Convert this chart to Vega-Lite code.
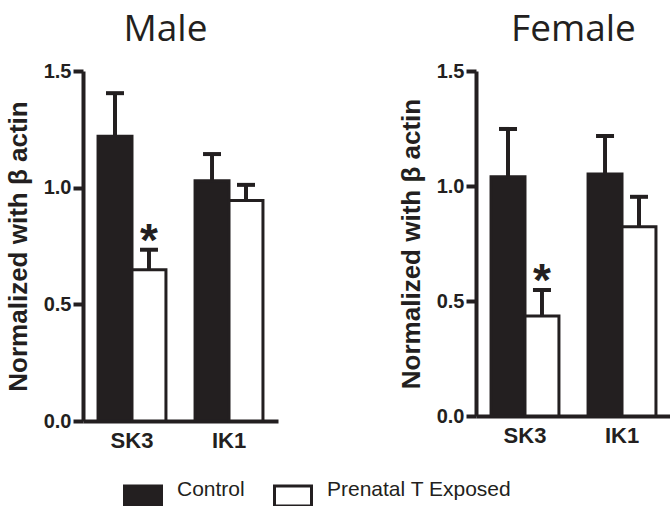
{
  "$schema": "https://vega.github.io/schema/vega-lite/v6.json",
  "padding": {"left": 5, "top": 11, "right": 0, "bottom": 0},
  "datasets": {
    "d": [
      {"sex": "Male", "gene": "SK3", "group": "Control", "mean": 1.22, "upper": 1.405, "sig": ""},
      {"sex": "Male", "gene": "SK3", "group": "Prenatal T Exposed", "mean": 0.648, "upper": 0.734, "sig": "*"},
      {"sex": "Male", "gene": "IK1", "group": "Control", "mean": 1.03, "upper": 1.144, "sig": ""},
      {"sex": "Male", "gene": "IK1", "group": "Prenatal T Exposed", "mean": 0.945, "upper": 1.012, "sig": ""},
      {"sex": "Female", "gene": "SK3", "group": "Control", "mean": 1.04, "upper": 1.248, "sig": ""},
      {"sex": "Female", "gene": "SK3", "group": "Prenatal T Exposed", "mean": 0.435, "upper": 0.548, "sig": "*"},
      {"sex": "Female", "gene": "IK1", "group": "Control", "mean": 1.052, "upper": 1.217, "sig": ""},
      {"sex": "Female", "gene": "IK1", "group": "Prenatal T Exposed", "mean": 0.823, "upper": 0.953, "sig": ""}
    ]
  },
  "spacing": 120,
  "hconcat": [
    {
      "title": {"text": "Male", "dx": -15},
      "data": {"name": "d"},
      "transform": [{"filter": "datum.sex == 'Male'"}],
      "width": 195,
      "height": 350,
      "encoding": {
        "x": {"field": "gene", "type": "nominal", "sort": ["SK3", "IK1"], "title": null,
              "scale": {"paddingInner": 0.3, "paddingOuter": 0.155},
              "axis": {"labelAngle": 0, "ticks": false, "labelPadding": 9, "labelFontSize": 22}},
        "xOffset": {"field": "group", "type": "nominal", "sort": ["Control", "Prenatal T Exposed"], "scale": {"paddingInner": 0, "paddingOuter": 0}}
      },
      "layer": [
        {
          "mark": {"type": "bar", "stroke": "#231f20", "strokeWidth": 3},
          "encoding": {
            "y": {"field": "mean", "type": "quantitative", "scale": {"domain": [0, 1.5], "nice": false},
                  "axis": {"values": [0, 0.5, 1, 1.5], "format": ".1f", "title": "Normalized with β actin"}},
            "fill": {"field": "group", "type": "nominal", "scale": {"domain": ["Control", "Prenatal T Exposed"], "range": ["#231f20", "#ffffff"]},
                     "legend": {"orient": "none", "legendX": 40, "legendY": 405, "direction": "horizontal", "title": null}}
          }
        },
        {
          "mark": {"type": "rule", "stroke": "#231f20", "strokeWidth": 4},
          "encoding": {"y": {"field": "mean", "type": "quantitative"}, "y2": {"field": "upper"}}
        },
        {
          "mark": {"type": "tick", "color": "#231f20", "size": 18, "thickness": 4, "opacity": 1},
          "encoding": {"y": {"field": "upper", "type": "quantitative"}}
        },
        {
          "transform": [{"filter": "datum.sig == '*'"}],
          "mark": {"type": "text", "font": "Liberation Sans", "fontWeight": "bold", "fontSize": 46, "baseline": "alphabetic", "dy": 6, "color": "#231f20"},
          "encoding": {"y": {"field": "upper", "type": "quantitative"}, "text": {"field": "sig"}}
        }
      ]
    },
    {
      "title": "Female",
      "data": {"name": "d"},
      "transform": [{"filter": "datum.sex == 'Female'"}],
      "width": 195,
      "height": 345,
      "encoding": {
        "x": {"field": "gene", "type": "nominal", "sort": ["SK3", "IK1"], "title": null,
              "scale": {"paddingInner": 0.3, "paddingOuter": 0.155},
              "axis": {"labelAngle": 0, "ticks": false, "labelPadding": 9, "labelFontSize": 22}},
        "xOffset": {"field": "group", "type": "nominal", "sort": ["Control", "Prenatal T Exposed"], "scale": {"paddingInner": 0, "paddingOuter": 0}}
      },
      "layer": [
        {
          "mark": {"type": "bar", "stroke": "#231f20", "strokeWidth": 3},
          "encoding": {
            "y": {"field": "mean", "type": "quantitative", "scale": {"domain": [0, 1.5], "nice": false},
                  "axis": {"values": [0, 0.5, 1, 1.5], "format": ".1f", "title": "Normalized with β actin"}},
            "fill": {"field": "group", "type": "nominal", "scale": {"domain": ["Control", "Prenatal T Exposed"], "range": ["#231f20", "#ffffff"]},
                     "legend": {"orient": "none", "legendX": 40, "legendY": 405, "direction": "horizontal", "title": null}}
          }
        },
        {
          "mark": {"type": "rule", "stroke": "#231f20", "strokeWidth": 4},
          "encoding": {"y": {"field": "mean", "type": "quantitative"}, "y2": {"field": "upper"}}
        },
        {
          "mark": {"type": "tick", "color": "#231f20", "size": 18, "thickness": 4, "opacity": 1},
          "encoding": {"y": {"field": "upper", "type": "quantitative"}}
        },
        {
          "transform": [{"filter": "datum.sig == '*'"}],
          "mark": {"type": "text", "font": "Liberation Sans", "fontWeight": "bold", "fontSize": 46, "baseline": "alphabetic", "dy": 6, "color": "#231f20"},
          "encoding": {"y": {"field": "upper", "type": "quantitative"}, "text": {"field": "sig"}}
        }
      ]
    }
  ],
  "resolve": {"scale": {"y": "independent"}},
  "config": {
    "view": {"stroke": null},
    "title": {"font": "Open Sans", "fontSize": 37, "fontWeight": "normal", "color": "#231f20", "offset": 12, "anchor": "middle"},
    "axis": {
      "grid": false,
      "domainColor": "#231f20",
      "domainWidth": 4,
      "tickColor": "#231f20",
      "tickWidth": 4,
      "tickSize": 10,
      "labelFont": "Liberation Sans",
      "labelFontWeight": "bold",
      "labelFontSize": 20,
      "labelColor": "#231f20",
      "labelPadding": 2,
      "titleFont": "Liberation Sans",
      "titleFontWeight": "bold",
      "titleFontSize": 26,
      "titleColor": "#231f20",
      "titlePadding": 12
    },
    "legend": {
      "symbolType": "M-1,-0.54L1,-0.54L1,0.54L-1,0.54Z",
      "symbolSize": 1369,
      "symbolStrokeColor": "#231f20",
      "symbolStrokeWidth": 3,
      "symbolOpacity": 1,
      "labelFont": "Liberation Sans",
      "labelFontSize": 21,
      "labelBaseline": "alphabetic",
      "labelColor": "#231f20",
      "labelOffset": 14,
      "labelLimit": 0,
      "columnPadding": 23,
      "padding": 0
    }
  }
}
